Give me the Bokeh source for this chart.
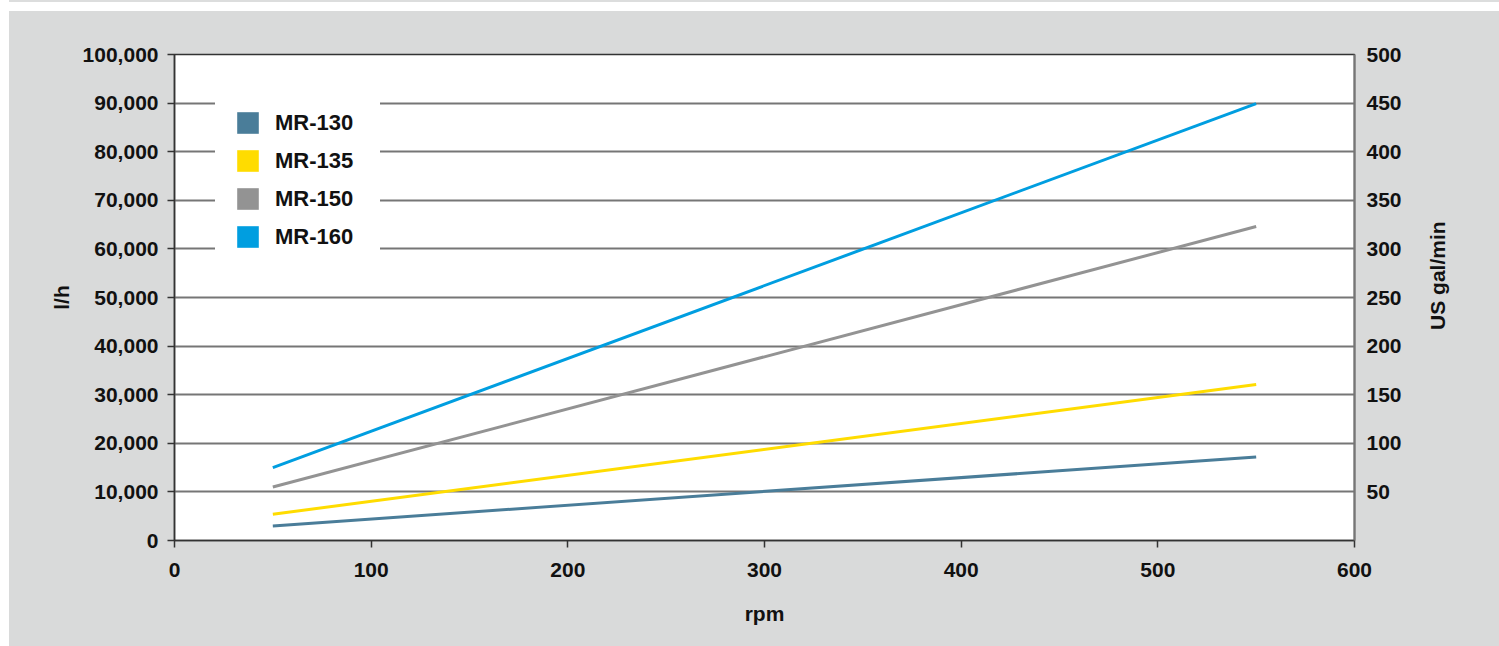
from math import pi
from bokeh.plotting import figure
from bokeh.models import (Range1d, FixedTicker, NumeralTickFormatter, Legend,
                          LegendItem, LinearAxis, ColumnDataSource, Spacer, Label)
from bokeh.layouts import column, row
from bokeh.embed import file_html
from bokeh.resources import INLINE

# ---- data ----
rpm = [50, 550]
mr130 = [3000, 17200]
mr135 = [5400, 32100]
mr150 = [11000, 64600]
mr160 = [15000, 89900]
series_names = ["MR-130", "MR-135", "MR-150", "MR-160"]
series_values = [mr130, mr135, mr150, mr160]
colors = ["#4a7d99", "#ffdc00", "#939393", "#009ee0"]
left_ticks = [0, 10000, 20000, 30000, 40000, 50000, 60000, 70000, 80000, 90000, 100000]
bottom_ticks = [0, 100, 200, 300, 400, 500, 600]
right_ticks = [50, 100, 150, 200, 250, 300, 350, 400, 450, 500]
x_title = "rpm"
y_title = "l/h"
y2_title = "US gal/min"

FONT = "Liberation Sans"
BG = "#d9dada"
TICK_SIZE = "21px"
TITLE_SIZE = "21px"
TXT = "#111111"

p = figure(width=1405, height=635, x_range=Range1d(0, 600), y_range=Range1d(0, 100000),
           output_backend="svg", toolbar_location=None,
           min_border_left=165, min_border_right=60, min_border_top=43, min_border_bottom=106,
           border_fill_color=BG, background_fill_color="white",
           outline_line_color="#333333", outline_line_width=1.5)
p.extra_y_ranges = {"gal": Range1d(0, 500)}

# grid
p.xgrid.visible = False
p.ygrid.ticker = FixedTicker(ticks=left_ticks)
p.ygrid.grid_line_color = "#767676"
p.ygrid.grid_line_width = 2

# right axis
ra = LinearAxis(y_range_name="gal")
p.add_layout(ra, "right")


def style_axis(ax):
    ax.major_tick_out = 7
    ax.major_tick_in = 0
    ax.minor_tick_out = 0
    ax.minor_tick_in = 0
    ax.axis_line_color = "#333333"
    ax.axis_line_width = 1.5
    ax.major_tick_line_color = "#333333"
    ax.major_tick_line_width = 1.5
    ax.major_label_text_font = FONT
    ax.major_label_text_font_style = "bold"
    ax.major_label_text_font_size = TICK_SIZE
    ax.major_label_text_color = TXT
    ax.axis_label_text_font = FONT
    ax.axis_label_text_font_style = "bold"
    ax.axis_label_text_font_size = TITLE_SIZE
    ax.axis_label_text_color = TXT


xa = p.xaxis[0]
ya = p.yaxis[0]
for ax in (xa, ya, ra):
    style_axis(ax)

xa.ticker = FixedTicker(ticks=bottom_ticks)
xa.major_label_standoff = 15
xa.axis_label = x_title
xa.axis_label_standoff = 22

ya.ticker = FixedTicker(ticks=left_ticks)
ya.formatter = NumeralTickFormatter(format="0,0")
ya.major_label_standoff = 9
ya.axis_label = y_title
ya.axis_label_standoff = 7

ra.ticker = FixedTicker(ticks=right_ticks)
ra.major_tick_out = 0
ra.axis_line_color = "#767676"
ra.axis_line_width = 2
ra.major_label_standoff = 12

# lines
for vals, c in zip(series_values, colors):
    p.line(rpm, vals, line_color=c, line_width=3)

# legend with square swatches (zero-area quads at each series' first point)
items = []
for name, vals, c in zip(series_names, series_values, colors):
    src = ColumnDataSource(data=dict(left=[rpm[0]], right=[rpm[0]],
                                     top=[vals[0]], bottom=[vals[0]]))
    r = p.quad(left="left", right="right", top="top", bottom="bottom", source=src,
               fill_color=c, line_color=None)
    items.append(LegendItem(label=name, renderers=[r]))

legend = Legend(items=items, location=(41, 271), margin=0, padding=0,
                glyph_width=27, glyph_height=27, label_standoff=14, spacing=11,
                label_width=86, label_height=22,
                label_text_font=FONT, label_text_font_style="bold",
                label_text_font_size="22px", label_text_color=TXT,
                background_fill_color="white", background_fill_alpha=1.0,
                border_line_color="white", border_line_width=19)
p.add_layout(legend, "center")

# right-hand axis title (reads bottom to top), in a narrow companion panel
p2 = figure(width=85, height=635, x_range=Range1d(0, 1), y_range=Range1d(0, 635),
            output_backend="svg", toolbar_location=None,
            min_border_left=0, min_border_right=0, min_border_top=0, min_border_bottom=0,
            border_fill_color=BG, background_fill_color=BG, outline_line_color=None,
            x_axis_location=None, y_axis_location=None)
p2.grid.visible = False
p2.add_layout(Label(x=0.27, y=346, text=y2_title, angle=pi / 2,
                    text_align="center", text_baseline="middle",
                    text_font=FONT, text_font_style="bold", text_font_size=TITLE_SIZE,
                    text_color=TXT))

inner = row(p, p2, styles={"background-color": BG})
top_strip = Spacer(width=1490, height=11,
                   styles={"background": "linear-gradient(#dcdddd 0px, #dcdddd 2px, #ffffff 2px)"})
layout = row(Spacer(width=9, height=646), column(top_strip, inner))
open("out.html", "w").write(file_html(layout, INLINE))
